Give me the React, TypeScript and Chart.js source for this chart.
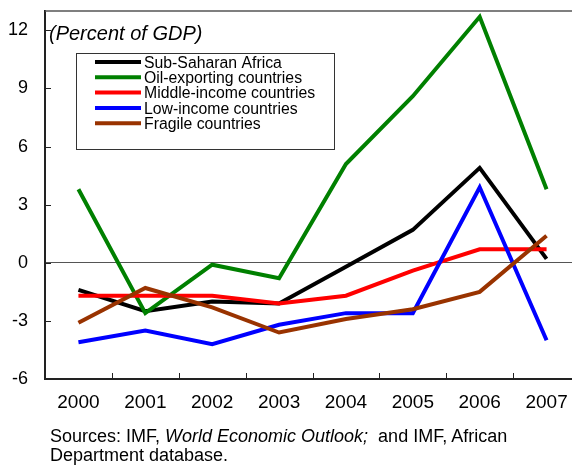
import React, { useEffect, useRef } from "react";
import { Chart, registerables } from "chart.js";

Chart.register(...registerables);

const years = ["2000", "2001", "2002", "2003", "2004", "2005", "2006", "2007"];
const subSaharanAfrica = [-1.4, -2.5, -2.0, -2.1, -0.2, 1.7, 4.9, 0.2];
const oilExporting = [3.8, -2.6, -0.1, -0.8, 5.1, 8.6, 12.7, 3.8];
const middleIncome = [-1.7, -1.7, -1.7, -2.1, -1.7, -0.4, 0.7, 0.7];
const lowIncome = [-4.1, -3.5, -4.2, -3.2, -2.6, -2.6, 3.9, -4.0];
const fragile = [-3.1, -1.3, -2.3, -3.6, -2.9, -2.4, -1.5, 1.4];

const seriesNames = [
  "Sub-Saharan Africa",
  "Oil-exporting countries",
  "Middle-income countries",
  "Low-income countries",
  "Fragile countries",
];
const seriesColors = ["#000000", "#008000", "#ff0000", "#0000ff", "#993300"];
const seriesValues = [subSaharanAfrica, oilExporting, middleIncome, lowIncome, fragile];

const yMin = -6;
const yMax = 13;
const yStep = 3;
const titleText = "(Percent of GDP)";

const FONT = "'Liberation Sans', Arial, sans-serif";

const decorPlugin = {
  id: "decor",
  afterDraw(chart: any) {
    const { ctx, chartArea: a, scales } = chart;
    const x = scales.x;
    const y = scales.y;
    ctx.save();
    // top border
    ctx.strokeStyle = "#555";
    ctx.lineWidth = 1.5;
    ctx.beginPath();
    ctx.moveTo(a.left, a.top);
    ctx.lineTo(a.right + 5, a.top);
    ctx.stroke();
    // inside ticks on y axis
    ctx.strokeStyle = "#222";
    ctx.lineWidth = 1;
    ctx.beginPath();
    y.ticks.forEach((t: any) => {
      const py = Math.round(y.getPixelForValue(t.value)) + 0.5;
      ctx.moveTo(a.left, py);
      ctx.lineTo(a.left + 6, py);
    });
    // inside ticks on x axis, between categories
    for (let i = 1; i < years.length; i++) {
      const px = Math.round((x.getPixelForValue(i - 1) + x.getPixelForValue(i)) / 2) + 0.5;
      ctx.moveTo(px, a.bottom);
      ctx.lineTo(px, a.bottom - 6);
    }
    ctx.stroke();

    // title
    ctx.fillStyle = "#000";
    ctx.font = `italic 20px ${FONT}`;
    ctx.textBaseline = "middle";
    ctx.textAlign = "left";
    ctx.fillText(titleText, 49, 34);

    // legend
    ctx.strokeStyle = "#333";
    ctx.lineWidth = 1;
    ctx.strokeRect(76.5, 53.5, 258, 96);
    ctx.font = `15.8px ${FONT}`;
    chart.data.datasets.forEach((ds: any, i: number) => {
      const ly = 62 + 15.3 * i;
      ctx.strokeStyle = ds.borderColor;
      ctx.lineWidth = 4;
      ctx.beginPath();
      ctx.moveTo(95, ly);
      ctx.lineTo(141, ly);
      ctx.stroke();
      ctx.fillStyle = "#000";
      ctx.fillText(ds.label, 144, ly + 1.5);
    });
    ctx.restore();
  },
};

export default function App() {
  const ref = useRef<HTMLCanvasElement | null>(null);

  useEffect(() => {
    if (!ref.current) return;
    const chart = new Chart(ref.current, {
      type: "line",
      data: {
        labels: years,
        datasets: seriesNames.map((name, i) => ({
          label: name,
          data: seriesValues[i],
          borderColor: seriesColors[i],
          backgroundColor: seriesColors[i],
          borderWidth: 4,
          pointRadius: 0,
          tension: 0,
          fill: false,
          order: -i,
        })),
      },
      options: {
        responsive: false,
        animation: false,
        devicePixelRatio: 1,
        layout: { autoPadding: false, padding: { top: 11, right: 20, left: 0, bottom: 0 } },
        plugins: {
          legend: { display: false },
          tooltip: { enabled: false },
          title: { display: false },
        },
        scales: {
          x: {
            type: "category",
            offset: true,
            grid: { display: false, drawTicks: false },
            border: { display: true, color: "#222", width: 2 },
            ticks: {
              color: "#000",
              font: { family: FONT, size: 19 },
              padding: 12,
              maxRotation: 0,
              autoSkip: false,
            },
            afterFit: (s: any) => {
              s.height = 86;
              s.paddingLeft = 0;
              s.paddingRight = 0;
              s.paddingTop = 0;
              s.paddingBottom = 0;
            },
          },
          y: {
            type: "linear",
            min: yMin,
            max: yMax,
            grid: {
              drawTicks: false,
              color: (c: any) => (c.tick && c.tick.value === 0 ? "#555" : "rgba(0,0,0,0)"),
              lineWidth: 1,
            },
            border: { display: true, color: "#222", width: 2 },
            ticks: {
              stepSize: yStep,
              includeBounds: false,
              color: "#000",
              font: { family: FONT, size: 18 },
              padding: 17,
            },
            afterFit: (s: any) => {
              s.width = 45;
              s.paddingLeft = 0;
              s.paddingRight = 0;
              s.paddingTop = 0;
              s.paddingBottom = 0;
            },
          },
        },
      },
      plugins: [decorPlugin],
    } as any);
    return () => chart.destroy();
  }, []);

  return (
    <div
      style={{
        position: "fixed",
        left: 0,
        top: 0,
        width: 572,
        height: 465,
        overflow: "hidden",
        background: "#fff",
      }}
    >
      <canvas ref={ref} width={600} height={465} style={{ display: "block", width: 600, height: 465 }} />
      <div
        style={{
          position: "absolute",
          left: 50,
          top: 427,
          fontFamily: FONT,
          fontSize: "18px",
          lineHeight: "19px",
          color: "#000",
          whiteSpace: "nowrap",
        }}
      >
        Sources: IMF, <i>World Economic Outlook;</i>&nbsp; and IMF, African
        <br />
        Department database.
      </div>
    </div>
  );
}
